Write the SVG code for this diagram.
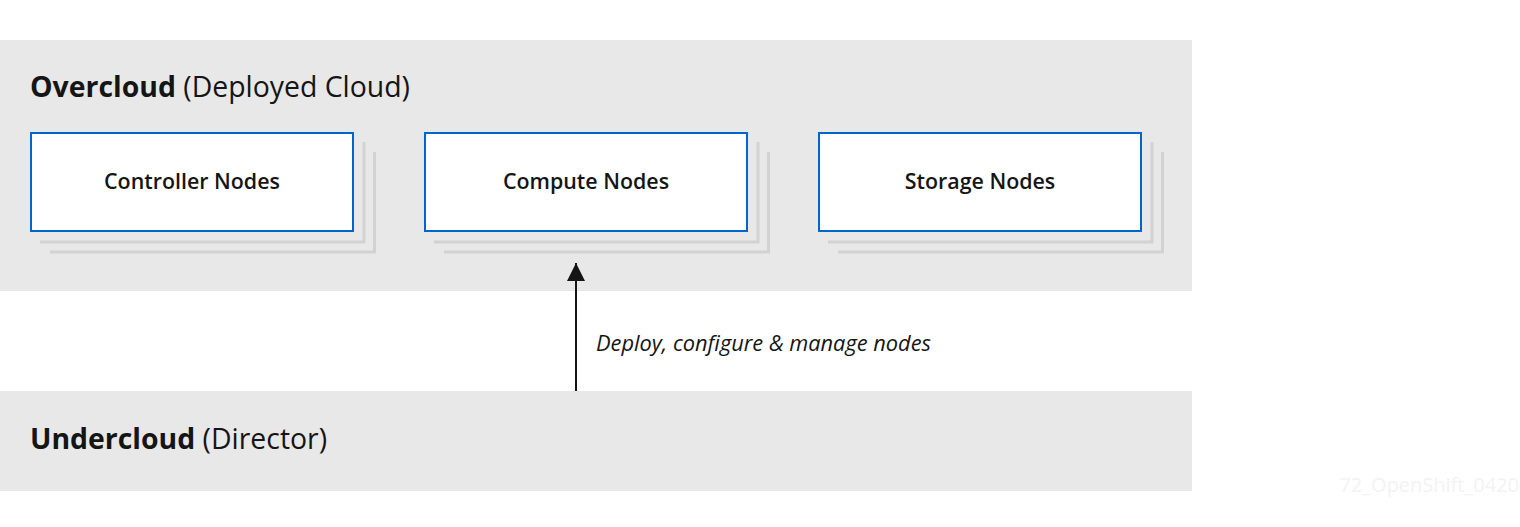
<svg xmlns="http://www.w3.org/2000/svg" width="1520" height="527" viewBox="0 0 1520 527">
<style>
.band{fill:#e8e8e8}
.title{font-family:"Open Sans","Liberation Sans",sans-serif;font-size:28.4px;fill:#151515}
.node{fill:#fff;stroke:#0066cc;stroke-width:2}
.shadow{fill:none;stroke:#d2d2d2;stroke-width:3}
.lbl{font-family:"Open Sans","Liberation Sans",sans-serif;font-size:21.4px;font-weight:600;fill:#151515;text-anchor:middle}
.edge{font-family:"Open Sans","Liberation Sans",sans-serif;font-size:21.8px;font-style:italic;fill:#151515}
.wm{font-family:"Open Sans","Liberation Sans",sans-serif;font-size:20px;fill:#f3f3f3}
</style>
<defs>
<marker id="arr" viewBox="0 0 20 18" refX="18" refY="9" markerWidth="20" markerHeight="18" markerUnits="userSpaceOnUse" orient="auto">
<path d="M0,0 L18,9 L0,18 Z" fill="#151515"/>
</marker>
</defs>
<rect width="1520" height="527" fill="#fff"/>
<g id="overcloud">
<rect class="band" x="0" y="40" width="1192" height="251"/>
<text class="title" x="30" y="97"><tspan font-weight="700">Overcloud</tspan> (Deployed Cloud)</text>
</g>
<g id="undercloud">
<rect class="band" x="0" y="391" width="1192" height="100"/>
<text class="title" x="30" y="449"><tspan font-weight="700">Undercloud</tspan> (Director)</text>
</g>
<g id="controller">
<path class="shadow" d="M50,252 H374.5 V152"/>
<path class="shadow" d="M40,242 H364 V142"/>
<rect class="node" x="31" y="133" width="322" height="98"/>
<text class="lbl" x="192" y="189">Controller Nodes</text>
</g>
<g id="compute">
<path class="shadow" d="M444,252 H768.5 V152"/>
<path class="shadow" d="M434,242 H758 V142"/>
<rect class="node" x="425" y="133" width="322" height="98"/>
<text class="lbl" x="586" y="189">Compute Nodes</text>
</g>
<g id="storage">
<path class="shadow" d="M838,252 H1162.5 V152"/>
<path class="shadow" d="M828,242 H1152 V142"/>
<rect class="node" x="819" y="133" width="322" height="98"/>
<text class="lbl" x="980" y="189">Storage Nodes</text>
</g>
<g id="connectors">
<line x1="576" y1="391" x2="576" y2="263" stroke="#151515" stroke-width="2" marker-end="url(#arr)"/>
<text class="edge" x="596" y="351">Deploy, configure &amp; manage nodes</text>
</g>
<text class="wm" x="1519" y="492" text-anchor="end">72_OpenShift_0420</text>
</svg>
